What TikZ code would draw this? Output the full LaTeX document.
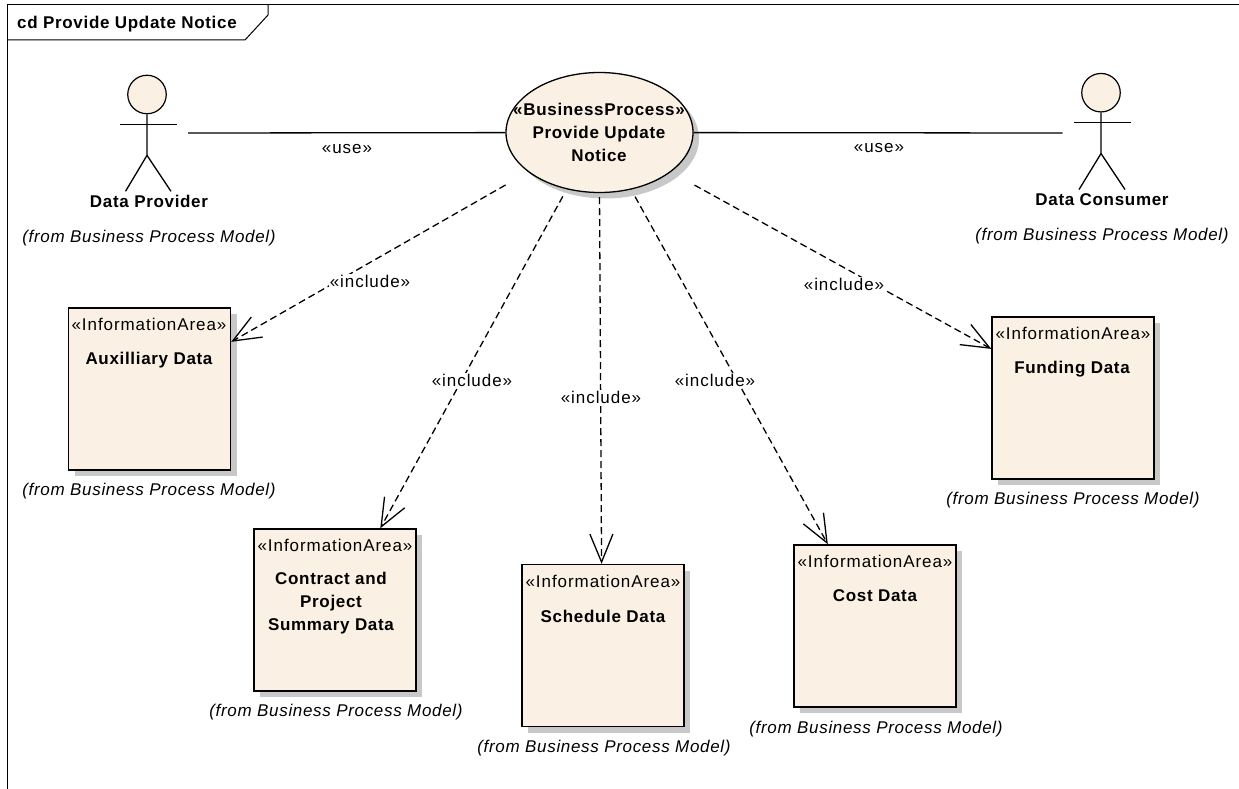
\documentclass[tikz,border=0pt]{standalone}
\usepackage{fontspec}
\setmainfont{Liberation Sans}
\definecolor{cc}{RGB}{250, 240, 227}
\definecolor{sh}{RGB}{200, 200, 200}
\usetikzlibrary{shapes.geometric}
\usetikzlibrary{shadows}
\usetikzlibrary{arrows.meta}
\tikzset{
  area/.style={rectangle, minimum size=162pt, inner sep=0pt, fill=cc, line width=1.4pt, draw=black, drop shadow={shadow xshift=6pt, shadow yshift=-6pt, fill=sh, opacity=1}},
  proc/.style={ellipse, minimum width=187pt, minimum height=120pt, inner sep=0pt, fill=cc, line width=1.3pt, draw=black, drop shadow={shadow xshift=6pt, shadow yshift=-6pt, fill=sh, opacity=1}},
  head/.style={circle, minimum size=38.5pt, inner sep=0pt, fill=cc, line width=1.2pt, draw=black},
  txt/.style={font=\fontsize{17}{23}\selectfont\addfontfeatures{LetterSpace=5.5}, align=center, inner sep=0pt},
  bold/.style={txt, font=\fontsize{17}{23}\selectfont\bfseries\addfontfeatures{LetterSpace=4}},
  from/.style={txt, font=\fontsize{17}{18}\selectfont\itshape\addfontfeatures{LetterSpace=4}},
  inc/.style={txt, fill=white, inner sep=1pt},
  uses/.style={line width=1.3pt, color=black},
  incl/.style={line width=1.3pt, color=black, dash pattern=on 7pt off 4pt, -{Straight Barb[length=28pt, width=23pt, line width=1.3pt]}}
}
\begin{document}
\begin{tikzpicture}
\useasboundingbox (0pt, 0pt) rectangle (1239pt, -789pt);
% frame
\draw [line width=1pt, color=black] (7pt, -789pt) -- (7pt, -5pt) -- (1239pt, -5pt);
\draw [line width=1pt, color=black] (7pt, -40pt) -- (245pt, -40pt) -- (268pt, -15pt) -- (268pt, -5pt);
\node (title) [bold, anchor=west] at (17pt, -24pt) {cd Provide Update Notice};
% process
\node (bp) [proc] at (599.5pt, -132.5pt) {};
\node (bptext) [bold] at (599pt, -132.5pt) {«BusinessProcess»\\Provide Update\\Notice};
% actors
\node (dp) [head] at (147pt, -94.5pt) {};
\draw [uses] (dp.south) -- ++(0pt, -41pt) -- ++(-21.5pt, -36pt);
\draw [uses] (dp.south) ++(0pt, -41pt) -- ++(24pt, -36pt);
\draw [uses] (120pt, -124.3pt) -- (177pt, -124.3pt);
\node (dc) [head] at (1101pt, -92.7pt) {};
\draw [uses] (dc.south) -- ++(0pt, -41pt) -- ++(-22pt, -36pt);
\draw [uses] (dc.south) ++(0pt, -41pt) -- ++(24pt, -36pt);
\draw [uses] (1074pt, -122.3pt) -- (1131pt, -122.3pt);
\node (dpname) [bold] at (149pt, -201.5pt) {Data Provider};
\node (dcname) [bold] at (1102pt, -200pt) {Data Consumer};
\node (dpfrom) [from] at (149pt, -238pt) {(from Business Process Model)};
\node (dcfrom) [from] at (1102pt, -236pt) {(from Business Process Model)};
\coordinate (dpend) at (188pt, -133pt);
\coordinate (dcend) at (1062.7pt, -133pt);
% areas
\node (aux) [area] at (149.5pt, -389pt) {};
\node (con) [area] at (335pt, -610pt) {};
\node (sch) [area] at (603pt, -645.5pt) {};
\node (cost) [area] at (875pt, -626pt) {};
\node (fund) [area] at (1073pt, -398pt) {};
\node (auxs) [txt] at (149pt, -324.5pt) {«InformationArea»};
\node (cons) [txt] at (335pt, -545.5pt) {«InformationArea»};
\node (schs) [txt] at (603pt, -581.5pt) {«InformationArea»};
\node (costs) [txt] at (875pt, -561.5pt) {«InformationArea»};
\node (funds) [txt] at (1073pt, -333.5pt) {«InformationArea»};
\node (auxn) [bold] at (149pt, -360pt) {Auxilliary Data};
\node (conn) [bold] at (331pt, -603pt) {Contract and\\Project\\Summary Data};
\node (schn) [bold] at (603pt, -616pt) {Schedule Data};
\node (costn) [bold] at (875pt, -596pt) {Cost Data};
\node (fundn) [bold] at (1072pt, -369pt) {Funding Data};
\node (auxf) [from] at (149pt, -491pt) {(from Business Process Model)};
\node (conf) [from] at (336pt, -712pt) {(from Business Process Model)};
\node (schf) [from] at (604pt, -748pt) {(from Business Process Model)};
\node (costf) [from] at (876pt, -729pt) {(from Business Process Model)};
\node (fundf) [from] at (1073pt, -500pt) {(from Business Process Model)};
% connectors
\draw [uses] (dpend) to (bp);
\draw [uses] (bp) to (dcend);
\draw [incl, shorten <=26pt] (bp.209.5) to (aux.30);
\draw [incl, shorten <=8pt] (bp.240) to (con.61.5);
\draw [incl, shorten <=4pt] (bp.270) to (sch.91);
\draw [incl, shorten <=8pt] (bp.299) to (cost.120);
\draw [incl, shorten <=27pt] (bp.331) to (fund.149);
% labels
\node (use1) [txt] at (347pt, -149.5pt) {«use»};
\node (use2) [txt] at (879pt, -148.5pt) {«use»};
\node (inc1) [inc] at (370pt, -281.5pt) {«include»};
\node (inc2) [inc] at (472pt, -380.5pt) {«include»};
\node (inc3) [inc] at (601pt, -397.5pt) {«include»};
\node (inc4) [inc] at (715pt, -380.5pt) {«include»};
\node (inc5) [inc] at (844pt, -284.5pt) {«include»};
\end{tikzpicture}
\end{document}
